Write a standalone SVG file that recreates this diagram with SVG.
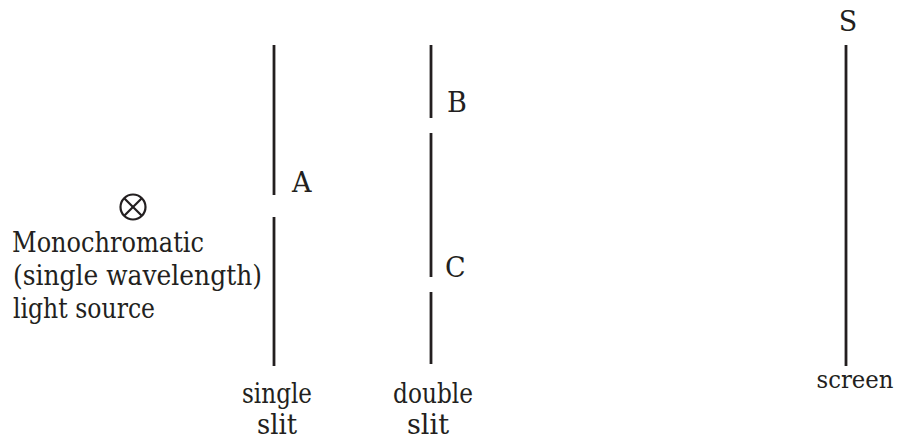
<svg xmlns="http://www.w3.org/2000/svg" width="901" height="439" viewBox="0 0 901 439">
<style>
.bar{stroke:#231f20;stroke-width:2.8;fill:none}
text{font-family:'DejaVu Serif','Liberation Serif',serif;font-size:27px;fill:#231f20}
.c{text-anchor:middle}
</style>
<rect width="901" height="439" fill="#fff"/>
<g id="source">
<circle cx="133" cy="207" r="12.5" fill="none" stroke="#231f20" stroke-width="2.2"/>
<line x1="124.2" y1="198.2" x2="141.8" y2="215.8" stroke="#231f20" stroke-width="2.2"/>
<line x1="141.8" y1="198.2" x2="124.2" y2="215.8" stroke="#231f20" stroke-width="2.2"/>
<text x="12" y="252" textLength="192" lengthAdjust="spacingAndGlyphs">Monochromatic</text>
<text x="13" y="285" textLength="249" lengthAdjust="spacingAndGlyphs">(single wavelength)</text>
<text x="13" y="318" textLength="142" lengthAdjust="spacingAndGlyphs">light source</text>
</g>
<g id="single-slit">
<line class="bar" x1="274" y1="45" x2="274" y2="195"/>
<line class="bar" x1="274" y1="217" x2="274" y2="366"/>
<text x="292" y="192">A</text>
<text class="c" x="277" y="403" textLength="70" lengthAdjust="spacingAndGlyphs">single</text>
<text class="c" x="277" y="434" textLength="40" lengthAdjust="spacingAndGlyphs">slit</text>
</g>
<g id="double-slit">
<line class="bar" x1="431" y1="45" x2="431" y2="118"/>
<line class="bar" x1="431" y1="133" x2="431" y2="277"/>
<line class="bar" x1="431" y1="292" x2="431" y2="364"/>
<text x="447" y="112">B</text>
<text x="445" y="277">C</text>
<text class="c" x="433" y="403" textLength="80" lengthAdjust="spacingAndGlyphs">double</text>
<text class="c" x="428" y="434" textLength="42" lengthAdjust="spacingAndGlyphs">slit</text>
</g>
<g id="screen">
<line class="bar" x1="846" y1="45" x2="846" y2="366"/>
<text class="c" x="848" y="31">S</text>
<text class="c" x="855" y="388" style="font-size:25px" textLength="77" lengthAdjust="spacingAndGlyphs">screen</text>
</g>
<g id="connectors"></g>
</svg>
